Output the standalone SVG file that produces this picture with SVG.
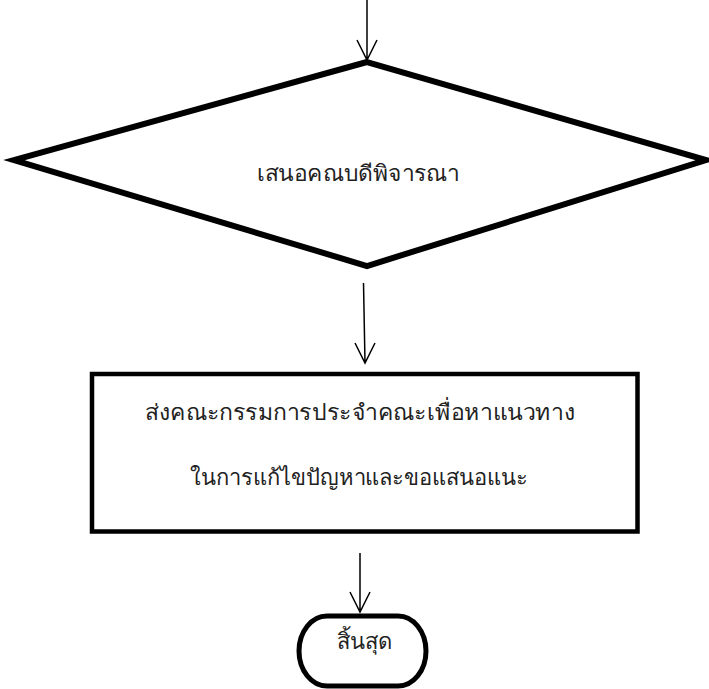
<svg xmlns="http://www.w3.org/2000/svg" width="709" height="689" viewBox="0 0 709 689">
<style>
.t{font-family:"Noto Sans","DejaVu Sans",sans-serif;font-size:22px;fill:#222;text-anchor:middle}
.c{stroke:#000;stroke-width:1.5;fill:none}
</style>
<rect width="709" height="689" fill="#fff"/>
<g id="connectors">
<path class="c" d="M367 0 L367 60 M357 40 L367 60 L377 40"/>
<path class="c" d="M363.5 283 L365 363 M355 343 L365 363 L375 343"/>
<path class="c" d="M360 553 L360 612 M350 592 L360 612 L370 592"/>
</g>
<g id="decision">
<polygon points="367,62 14,160 367,266 706,160" fill="#fff" stroke="#000" stroke-width="6" stroke-linejoin="miter"/>
<text class="t" x="358" y="181" textLength="203" lengthAdjust="spacingAndGlyphs">เสนอคณบดีพิจารณา</text>
</g>
<g id="process">
<rect x="92" y="374" width="545.5" height="157.5" fill="#fff" stroke="#000" stroke-width="4.5"/>
<text class="t" x="360" y="420" textLength="430" lengthAdjust="spacingAndGlyphs">ส่งคณะกรรมการประจำคณะเพื่อหาแนวทาง</text>
<text class="t" x="359" y="485" textLength="338" lengthAdjust="spacingAndGlyphs">ในการแก้ไขปัญหาและขอแสนอแนะ</text>
</g>
<g id="end">
<rect x="299" y="616" width="127" height="70" rx="28" ry="35" fill="#fff" stroke="#000" stroke-width="5"/>
<text class="t" x="364" y="649">สิ้นสุด</text>
</g>
</svg>
